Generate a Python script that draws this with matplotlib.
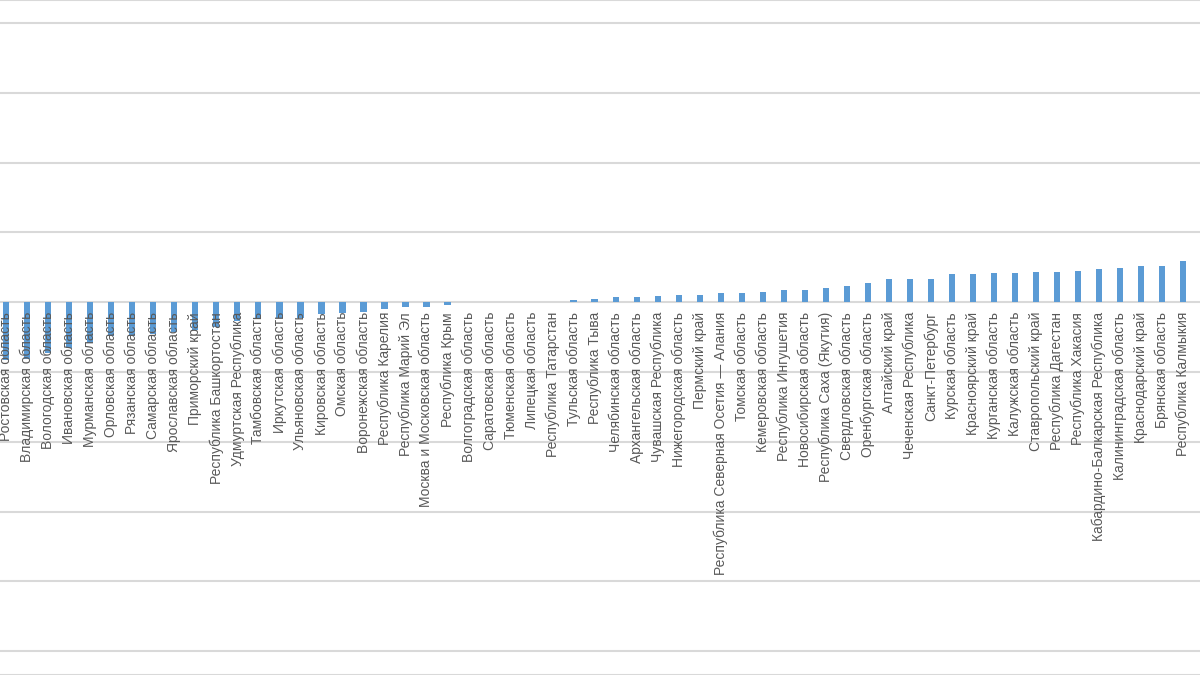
import matplotlib
matplotlib.use("Agg")
import matplotlib.pyplot as plt

# --- data ---
regions = [
    "Ростовская область", "Владимирская область", "Вологодская область",
    "Ивановская область", "Мурманская область", "Орловская область",
    "Рязанская область", "Самарская область", "Ярославская область",
    "Приморский край", "Республика Башкортостан", "Удмуртская Республика",
    "Тамбовская область", "Иркутская область", "Ульяновская область",
    "Кировская область", "Омская область", "Воронежская область",
    "Республика Карелия", "Республика Марий Эл", "Москва и Московская область",
    "Республика Крым", "Волгоградская область", "Саратовская область",
    "Тюменская область", "Липецкая область", "Республика Татарстан",
    "Тульская область", "Республика Тыва", "Челябинская область",
    "Архангельская область", "Чувашская Республика", "Нижегородская область",
    "Пермский край", "Республика Северная Осетия — Алания", "Томская область",
    "Кемеровская область", "Республика Ингушетия", "Новосибирская область",
    "Республика Саха (Якутия)", "Свердловская область", "Оренбургская область",
    "Алтайский край", "Чеченская Республика", "Санкт-Петербург",
    "Курская область", "Красноярский край", "Курганская область",
    "Калужская область", "Ставропольский край", "Республика Дагестан",
    "Республика Хакасия", "Кабардино-Балкарская Республика",
    "Калининградская область", "Краснодарский край", "Брянская область",
    "Республика Калмыкия",
]

values = [
    -8.3, -8.1, -7.2, -6.5, -5.9, -4.9, -4.9, -4.6, -4.3, -4.0,
    -3.5, -2.7, -2.4, -2.3, -2.2, -1.7, -1.6, -1.4, -1.0, -0.7,
    -0.7, -0.4, 0.0, 0.0, 0.0, 0.0, 0.0, 0.35, 0.5, 0.7,
    0.7, 0.9, 1.0, 1.1, 1.3, 1.3, 1.4, 1.8, 1.8, 2.0,
    2.3, 2.8, 3.3, 3.35, 3.35, 4.0, 4.0, 4.2, 4.2, 4.3,
    4.3, 4.5, 4.75, 4.9, 5.2, 5.2, 5.95,
]

grid_ticks = [-50, -40, -30, -20, -10, 0, 10, 20, 30, 40]

BAR_COLOR = "#5b9bd5"
GRID_COLOR = "#d9d9d9"
TEXT_COLOR = "#595959"

fig = plt.figure(figsize=(12, 6.75), dpi=100)
ax = fig.add_axes([0, 0, 1, 1])

x = list(range(len(regions)))
ax.bar(x, values, width=0.3, color=BAR_COLOR, zorder=2)

ax.set_xlim(-0.29, 56.8)
ax.set_ylim(-53.4, 43.3)
ax.set_yticks(grid_ticks)
ax.set_xticks([])
ax.yaxis.grid(True, color=GRID_COLOR, linewidth=1.5, zorder=0)
ax.tick_params(left=False, labelleft=False)

for side in ["left", "right"]:
    ax.spines[side].set_visible(False)
for side in ["top", "bottom"]:
    ax.spines[side].set_color(GRID_COLOR)
    ax.spines[side].set_linewidth(1.5)

# category labels hang just below the zero line, as in the original
for i, name in enumerate(regions):
    ax.annotate(name, xy=(i, 0), xytext=(0, -7), textcoords="offset points",
                rotation=90, ha="center", va="top", fontsize=10,
                color=TEXT_COLOR, family=["Liberation Sans", "DejaVu Sans"],
                zorder=3)

fig.savefig("out.png", dpi=100)
